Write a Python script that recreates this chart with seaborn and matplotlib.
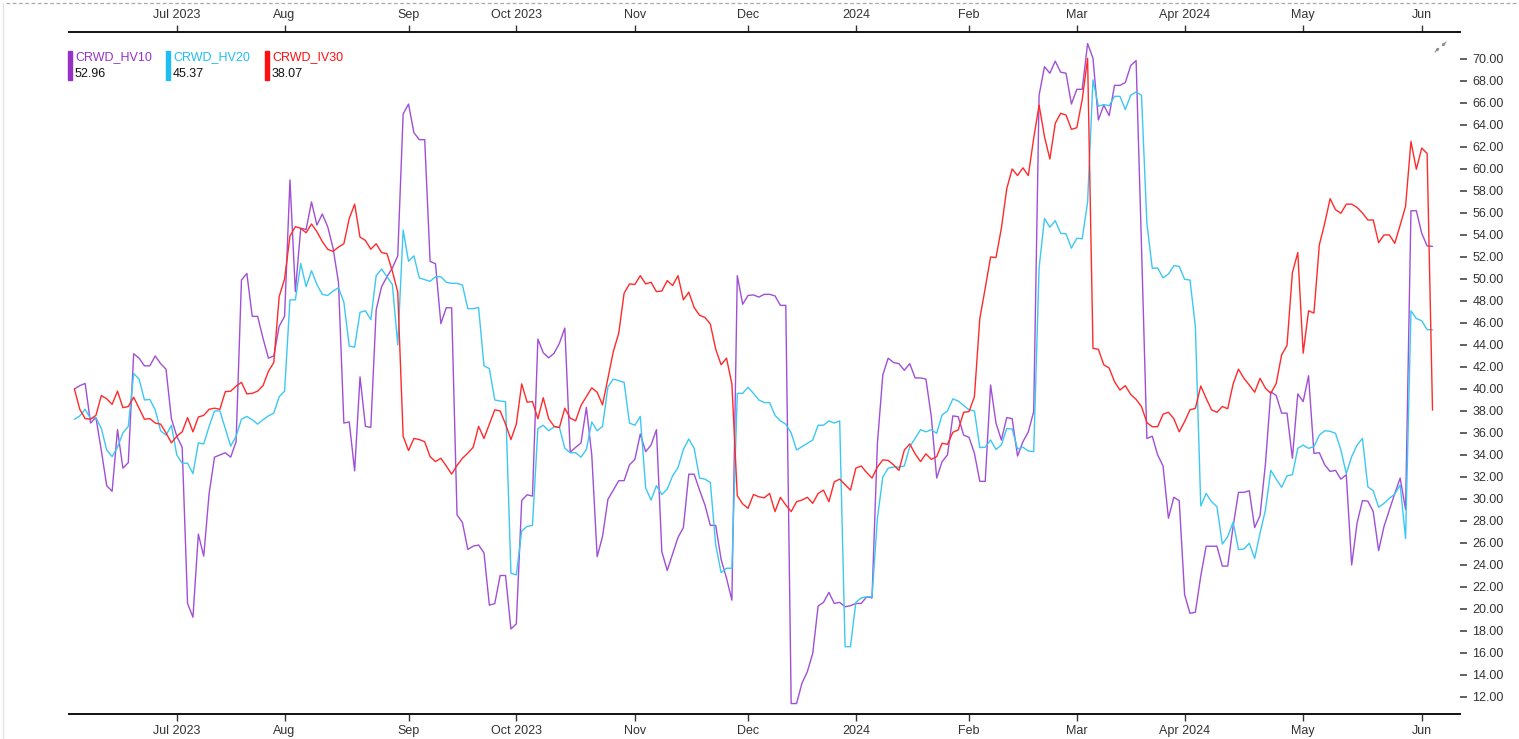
import numpy as np
import pandas as pd
import matplotlib
matplotlib.use("Agg")
import matplotlib.pyplot as plt
from matplotlib.patches import Rectangle
from matplotlib.lines import Line2D
import seaborn as sns

# ---------------- data ----------------
series_names = ["CRWD_HV10", "CRWD_HV20", "CRWD_IV30"]
last_values = ["52.96", "45.37", "38.07"]

hv10 = [
    40.0, 40.3, 40.5, 36.9, 37.4, 34.4, 31.2, 30.7, 36.3, 32.8,
    33.3, 43.2, 42.8, 42.1, 42.1, 43.0, 42.3, 41.8, 37.3, 35.7,
    34.7, 20.5, 19.25, 26.8, 24.8, 30.5, 33.8, 34.0, 34.2, 33.8,
    35.2, 49.9, 50.5, 46.6, 46.6, 44.6, 42.8, 43.0, 45.7, 46.6,
    59.0, 48.85, 54.6, 54.5, 57.0, 54.9, 55.9, 54.75, 52.8, 49.7,
    36.9, 37.0, 32.55, 41.1, 36.6, 36.5, 47.2, 49.3, 50.2, 51.0,
    52.1, 65.0, 65.9, 63.3, 62.66, 62.66, 51.6, 51.38, 45.94, 47.38,
    47.38, 28.55, 27.86, 25.41, 25.71, 25.81, 25.1, 20.34, 20.49, 23.04,
    23.04, 18.18, 18.64, 29.86, 30.38, 30.26, 44.53, 43.29, 42.83, 43.24,
    44.16, 45.54, 34.25, 34.69, 35.09, 38.32, 34.0, 24.75, 26.6, 29.97,
    30.8, 31.66, 31.66, 33.1, 33.6, 35.9, 34.3, 34.9, 36.3, 25.2,
    23.5, 25.0, 26.5, 27.4, 32.25, 32.25, 30.8, 29.45, 27.6, 27.6,
    24.5, 22.8, 20.8, 50.3, 47.7, 48.5, 48.55, 48.35, 48.6, 48.6,
    48.46, 47.6, 47.6, 11.4, 11.4, 13.25, 14.3, 15.97, 20.27, 20.6,
    21.5, 20.5, 20.6, 20.2, 20.3, 20.5, 20.5, 21.1, 21.0, 35.06,
    41.27, 42.8, 42.4, 42.3, 41.7, 42.3, 41.0, 41.0, 40.9, 37.5,
    31.9, 33.39, 34.0, 37.55, 37.48, 35.8, 35.6, 34.15, 31.6, 31.6,
    40.36, 36.9, 35.36, 37.4, 37.3, 33.9, 35.2, 36.1, 37.94, 66.7,
    69.3, 68.7, 69.8, 68.8, 68.7, 65.9, 67.24, 67.24, 71.4, 70.06,
    64.45, 65.8, 64.85, 67.6, 67.6, 67.85, 69.4, 69.85, 53.0, 35.5,
    35.7, 34.0, 33.0, 28.25, 30.15, 29.85, 21.3, 19.6, 19.7, 23.0,
    25.7, 25.7, 25.7, 23.9, 23.9, 27.5, 30.6, 30.6, 30.75, 27.4,
    28.5, 33.2, 39.75, 39.4, 37.8, 37.8, 33.7, 39.55, 38.85, 41.2,
    34.15, 34.2, 33.1, 32.5, 32.6, 31.8, 32.2, 24.0, 27.8, 29.85,
    29.8, 28.85, 25.3, 27.5, 29.0, 30.5, 31.9, 29.05, 56.2, 56.2,
    54.15, 53.0, 52.96,
]

hv20 = [
    37.25, 37.55, 38.15, 37.3, 37.4, 36.4, 34.45, 33.85, 34.7, 36.0,
    36.6, 41.4, 40.9, 39.0, 39.05, 38.1, 36.2, 35.8, 36.7, 34.0,
    33.25, 33.25, 32.3, 35.1, 35.0, 36.6, 38.0, 38.0, 36.4, 34.8,
    35.7, 37.25, 37.5, 37.2, 36.8, 37.2, 37.55, 37.8, 39.3, 39.8,
    48.1, 48.1, 51.4, 49.3, 50.75, 49.5, 48.6, 48.5, 48.9, 49.2,
    47.9, 43.9, 43.8, 46.97, 47.1, 46.3, 50.3, 50.9, 50.2, 49.5,
    44.0, 54.45, 51.6, 52.1, 50.09, 49.94, 49.78, 50.2, 50.2, 49.7,
    49.6, 49.6, 49.45, 47.3, 47.3, 47.4, 42.1, 41.85, 39.0, 38.9,
    38.85, 23.25, 23.1, 27.1, 27.5, 27.6, 36.4, 36.7, 36.2, 36.55,
    36.5, 34.6, 34.2, 34.2, 33.8, 34.5, 37.0, 36.2, 36.6, 40.2,
    40.9, 40.75, 40.6, 36.9, 36.7, 37.5, 31.0, 29.9, 31.2, 30.4,
    30.9, 32.1, 32.85, 34.5, 35.45, 34.6, 31.9, 31.8, 31.5, 25.8,
    23.3, 23.7, 23.7, 39.6, 39.6, 40.15, 39.6, 39.0, 38.76, 38.76,
    37.6, 37.1, 36.8, 36.0, 34.45, 34.75, 35.05, 35.36, 36.7, 36.7,
    37.1, 36.9, 37.1, 16.57, 16.57, 20.6, 21.0, 21.1, 21.1, 28.24,
    32.0, 32.8, 32.9, 32.9, 33.0, 34.75, 35.5, 36.3, 36.1, 36.3,
    35.97, 37.64, 38.0, 39.1, 38.9, 38.5, 38.1, 38.0, 34.67, 34.7,
    35.36, 34.5, 34.9, 36.4, 36.36, 34.55, 34.7, 34.36, 34.3, 51.0,
    55.5, 54.7, 55.3, 54.15, 54.1, 52.8, 53.7, 53.65, 57.0, 68.1,
    65.7, 65.85, 65.75, 66.6, 66.6, 65.4, 66.7, 67.0, 66.7, 55.06,
    50.97, 51.0, 50.1, 50.45, 51.2, 51.15, 49.97, 49.9, 45.66, 29.36,
    30.5, 29.75, 29.3, 25.9, 26.57, 27.9, 25.4, 25.45, 25.97, 24.6,
    26.9, 29.0, 32.6, 31.8, 31.06, 32.1, 32.2, 34.6, 34.9, 34.6,
    34.76, 35.8, 36.2, 36.15, 35.97, 34.45, 32.3, 33.85, 34.9, 35.5,
    31.1, 30.75, 29.25, 29.6, 30.06, 30.45, 31.27, 26.4, 47.1, 46.4,
    46.2, 45.4, 45.37,
]

iv30 = [
    40.0, 38.15, 37.3, 37.25, 37.6, 39.4, 39.1, 38.6, 39.8, 38.3,
    38.4, 39.25, 38.25, 37.25, 37.3, 36.9, 36.8, 36.0, 35.1, 35.7,
    36.1, 37.4, 36.1, 37.45, 37.6, 38.15, 38.25, 38.15, 39.75, 39.8,
    40.25, 40.6, 39.55, 39.6, 39.8, 40.3, 41.6, 42.4, 48.4, 50.0,
    53.9, 54.75, 54.6, 54.2, 55.0, 54.3, 53.4, 52.7, 52.5, 52.9,
    53.2, 55.5, 56.8, 53.8, 53.5, 52.7, 53.2, 52.4, 52.3, 50.7,
    48.8, 35.7, 34.4, 35.5, 35.4, 35.2, 33.85, 33.4, 33.7, 33.0,
    32.26, 33.05, 33.7, 34.16, 34.7, 36.6, 35.5, 36.8, 38.1, 38.0,
    36.8, 35.4, 36.8, 40.46, 38.8, 38.85, 37.3, 39.2, 37.3, 36.6,
    36.5, 38.25, 37.35, 37.1, 38.5, 39.3, 40.1, 39.7, 38.55, 40.97,
    43.4, 45.06, 48.7, 49.55, 49.5, 50.3, 49.55, 49.7, 48.85, 48.9,
    49.85, 49.4, 50.3, 48.1, 48.8, 47.4, 46.7, 46.5, 45.9, 43.6,
    42.2, 42.8, 40.45, 30.3, 29.55, 29.15, 30.4, 30.2, 30.1, 30.5,
    28.85, 30.15, 29.45, 28.85, 29.75, 29.9, 30.15, 29.6, 30.5, 30.8,
    29.75, 31.56, 31.8, 31.3, 30.8, 32.8, 33.0, 32.4, 31.9, 32.9,
    33.55, 33.5, 33.1, 32.6, 34.45, 35.0, 34.1, 33.4, 34.1, 33.6,
    33.85, 35.06, 34.97, 36.06, 36.27, 37.88, 37.94, 39.3, 46.4, 49.15,
    52.0, 51.94, 54.6, 58.2, 60.0, 59.4, 60.1, 59.4, 62.8, 65.8,
    62.94, 60.9, 64.15, 65.06, 64.9, 63.6, 63.75, 66.3, 70.06, 43.7,
    43.6, 42.2, 41.9, 40.66, 39.9, 40.3, 39.5, 39.05, 38.4, 36.94,
    36.57, 36.57, 37.7, 37.88, 37.3, 36.1, 37.03, 38.1, 38.24, 40.27,
    39.15, 38.1, 37.88, 38.4, 38.2, 40.45, 41.8, 40.97, 40.36, 39.7,
    40.97, 40.06, 39.6, 40.5, 43.1, 43.95, 50.57, 52.4, 43.25, 47.1,
    46.9, 53.1, 55.06, 57.3, 56.3, 55.97, 56.8, 56.8, 56.5, 56.0,
    55.36, 55.36, 53.3, 54.0, 54.0, 53.24, 54.9, 56.6, 62.5, 59.97,
    61.9, 61.4, 38.07,
]

start_date = "2023-06-05"
market_holidays = ["2023-06-19", "2023-07-04", "2023-09-04", "2023-11-23",
                   "2023-12-25", "2024-01-01", "2024-01-15", "2024-02-19",
                   "2024-03-29", "2024-05-27"]
month_tick_labels = ["Jul 2023", "Aug", "Sep", "Oct 2023", "Nov", "Dec",
                     "2024", "Feb", "Mar", "Apr 2024", "May", "Jun"]
y_ticks = list(range(12, 71, 2))

colors = ["#a04fd6", "#3cc8f4", "#ff2a2a"]
legend_bar_colors = ["#9632c8", "#1ebef5", "#ff1010"]

# ---------------- build frame ----------------
n = min(len(hv10), len(hv20), len(iv30))
dates = pd.bdate_range(start=start_date, periods=n, freq="C",
                       holidays=market_holidays)
pos = np.arange(n)
df = pd.concat([
    pd.DataFrame({"pos": pos, "date": dates, "value": np.array(v[:n]), "series": name})
    for v, name in zip([hv10, hv20, iv30], series_names)
], ignore_index=True)

# tick positions: first trading day of each month
first_of_month = pd.Series(pos, index=dates).groupby([dates.year, dates.month]).min()
tick_pos = list(first_of_month.values[1:1 + len(month_tick_labels)])

# ---------------- figure ----------------
sns.set_style("white")
plt.rcParams["font.family"] = ["Liberation Sans", "DejaVu Sans"]
W, H = 1519, 739
fig = plt.figure(figsize=(W / 100, H / 100), dpi=100)
ax = fig.add_axes([69 / W, 1 - 714 / H, (1460 - 69) / W, (714 - 32) / H])

sns.lineplot(data=df, x="pos", y="value", hue="series", hue_order=series_names,
             palette=colors, linewidth=1.0, legend=False, ax=ax, estimator=None)

ax.set_xlim(-1.0, 257.1)
ax.set_ylim(10.45, 72.45)
ax.set_xlabel("")
ax.set_ylabel("")

# spines
for s in ["left", "right"]:
    ax.spines[s].set_visible(False)
for s in ["top", "bottom"]:
    ax.spines[s].set_visible(True)
    ax.spines[s].set_color("#111111")
    ax.spines[s].set_linewidth(1.4)

# x ticks top and bottom
ax.set_xticks(tick_pos)
ax.set_xticklabels(month_tick_labels)
ax.tick_params(axis="x", top=True, labeltop=True, bottom=True, labelbottom=True,
               direction="out", length=5, width=1.0, color="#333333",
               labelsize=9, labelcolor="#333333", pad=3)

# y ticks right side
ax.yaxis.tick_right()
ax.set_yticks(y_ticks)
ax.set_yticklabels([f"{t:.2f}" for t in y_ticks])
ax.tick_params(axis="y", left=False, right=True, direction="out", length=5,
               width=1.3, color="#555555", labelsize=9, labelcolor="#333333", pad=4)
ax.grid(False)

# custom legend
leg_x = [68, 166, 265]
for lx, name, val, bc in zip(leg_x, series_names, last_values, legend_bar_colors):
    fig.patches.append(Rectangle((lx / W, 1 - 80 / H), 4 / W, 29 / H,
                                 transform=fig.transFigure, color=bc, zorder=5))
    fig.text((lx + 7) / W, 1 - 57 / H, name, color=bc, fontsize=9,
             va="center", ha="left")
    fig.text((lx + 7) / W, 1 - 74 / H, val, color="#111111", fontsize=9,
             va="center", ha="left")

# dashed frame line at the very top and light left border
fig.add_artist(Line2D([0.004, 1.0], [1 - 3 / H, 1 - 3 / H], transform=fig.transFigure,
                      color="#aaaaaa", linewidth=0.9, linestyle=(0, (3, 2))))
fig.add_artist(Line2D([3 / W, 3 / W], [0, 1 - 3 / H], transform=fig.transFigure,
                      color="#e4e4e4", linewidth=1.0))

# small "compress" icon near the top-right (two small converging arrows)
arrow_style = dict(arrowstyle="-|>", color="#8a8a8a", lw=0.8,
                   shrinkA=0, shrinkB=0, mutation_scale=4)
fig.add_artist(matplotlib.patches.FancyArrowPatch(
    (1435 / W, 1 - 52 / H), (1439.5 / W, 1 - 47.5 / H),
    transform=fig.transFigure, **arrow_style))
fig.add_artist(matplotlib.patches.FancyArrowPatch(
    (1446 / W, 1 - 42 / H), (1441.5 / W, 1 - 46.5 / H),
    transform=fig.transFigure, **arrow_style))

fig.savefig("out.png", dpi=100)
